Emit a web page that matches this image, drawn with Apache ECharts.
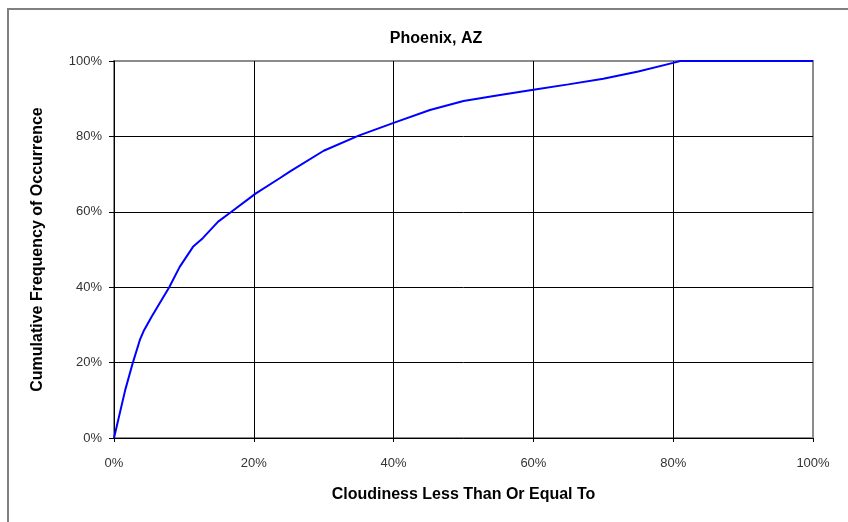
<!DOCTYPE html>
<html>
<head>
<meta charset="utf-8">
<script src="https://cdn.jsdelivr.net/npm/echarts@6/dist/echarts.min.js"></script>
<style>
html,body{margin:0;padding:0;background:#fff;}
#chart{width:848px;height:522px;}
</style>
</head>
<body>
<div id="chart"></div>
<script>
// Cloudiness (%) and cumulative frequency (%)
const cloudiness = [0, 1.6, 2.7, 3.7, 4.3, 5.4, 7.9, 9.4, 11.3, 12.7, 14.9, 16.8, 20.3, 23.7, 25.2, 30.0, 35.0, 40.0, 45.2, 50.0, 55.0, 60.0, 65.0, 70.0, 75.0, 80.0, 81.0, 85.0, 100];
const frequency  = [0, 12.7, 20.0, 26.0, 28.6, 32.2, 40.0, 45.4, 50.7, 53.0, 57.4, 60.0, 64.9, 68.9, 70.7, 76.2, 80.2, 83.6, 87.0, 89.4, 90.9, 92.4, 93.8, 95.3, 97.2, 99.5, 100, 100, 100];
const titleText = 'Phoenix, AZ';
const xName = 'Cloudiness Less Than Or Equal To';
const yName = 'Cumulative Frequency of Occurrence';

const points = cloudiness.map((x, i) => [x, frequency[i]]);
const FONT = '"Liberation Sans", Arial, sans-serif';

const chart = echarts.init(document.getElementById('chart'));
chart.setOption({
  animation: false,
  backgroundColor: '#fff',
  title: {
    text: titleText,
    left: 431, top: 26, textAlign: 'center',
    textStyle: {fontFamily: FONT, fontSize: 16, fontWeight: 'bold', color: '#000'}
  },
  graphic: [{
    type: 'rect', silent: true, z: -1,
    shape: {x: 8, y: 9, width: 1000, height: 700},
    style: {fill: 'none', stroke: '#808080', lineWidth: 2}
  }],
  grid: {
    left: 114, top: 61, right: 35, bottom: 84,
    show: true, borderColor: '#8c8c8c', borderWidth: 2, backgroundColor: 'transparent'
  },
  xAxis: {
    type: 'value', min: 0, max: 100, interval: 20,
    name: xName, nameLocation: 'middle', nameGap: 49,
    nameTextStyle: {fontFamily: FONT, fontSize: 16, fontWeight: 'bold', color: '#000'},
    axisLine: {show: true, onZero: false, lineStyle: {color: '#000', width: 1}},
    axisTick: {show: true, length: 4, inside: false, lineStyle: {color: '#000'}},
    axisLabel: {formatter: '{value}%', margin: 19, fontFamily: FONT, fontSize: 13, color: '#333'},
    splitLine: {show: true, showMinLine: false, showMaxLine: false, lineStyle: {color: '#000', width: 1}}
  },
  yAxis: {
    type: 'value', min: 0, max: 100, interval: 20,
    name: yName, nameLocation: 'middle', nameGap: 68,
    nameTextStyle: {fontFamily: FONT, fontSize: 16, fontWeight: 'bold', color: '#000'},
    axisLine: {show: true, onZero: false, lineStyle: {color: '#000', width: 1}},
    axisTick: {show: true, length: 5, inside: false, lineStyle: {color: '#000'}},
    axisLabel: {formatter: '{value}%', margin: 12, fontFamily: FONT, fontSize: 13, color: '#333'},
    splitLine: {show: true, showMinLine: false, showMaxLine: false, lineStyle: {color: '#000', width: 1}}
  },
  series: [{
    type: 'line', data: points, showSymbol: false, smooth: false,
    lineStyle: {color: '#0000ff', width: 2}, z: 5
  }]
});
</script>
</body>
</html>
